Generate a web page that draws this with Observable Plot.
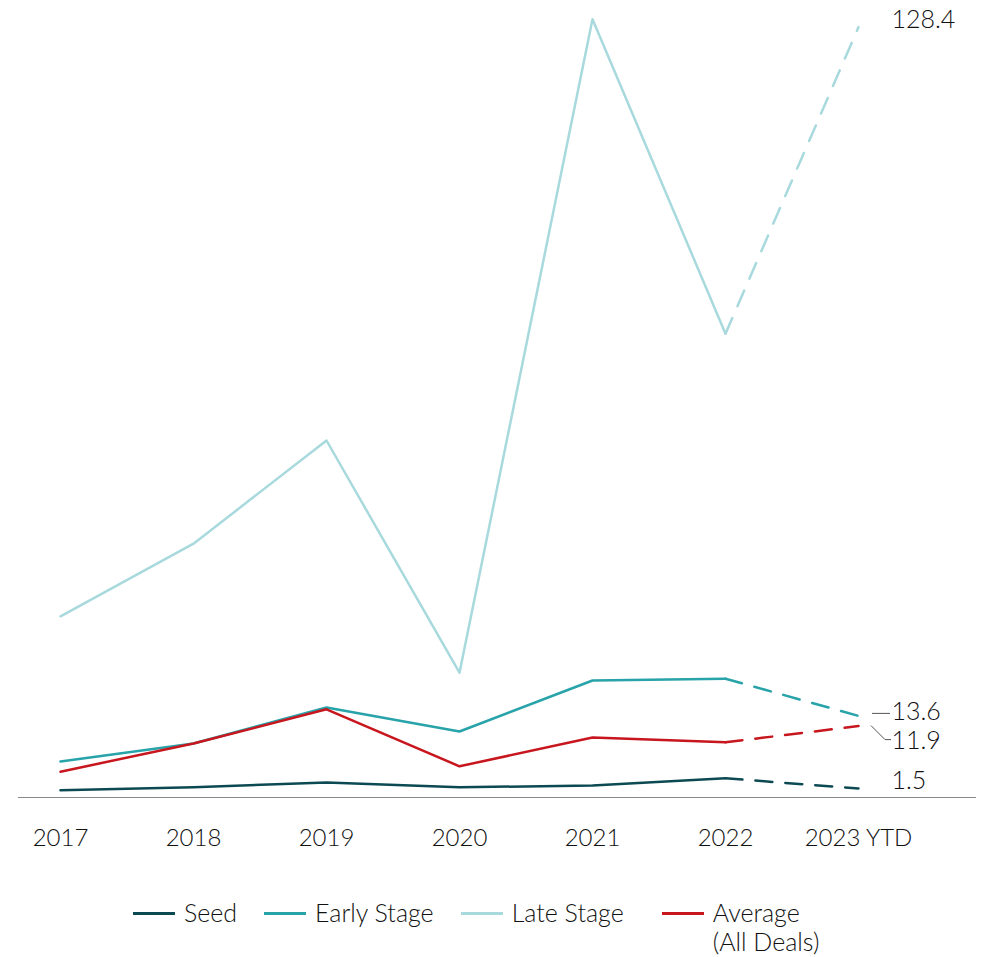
<!DOCTYPE html>
<html>
<head>
<meta charset="utf-8">
<script src="https://cdn.jsdelivr.net/npm/d3@7"></script>
<script src="https://cdn.jsdelivr.net/npm/@observablehq/plot@0.6"></script>
<style>
  body { margin: 0; background: #fff; font-family: Lato, "Open Sans", sans-serif; }
  #legend { display: flex; justify-content: flex-start; align-items: flex-start; padding-left: 133px; margin-top: 28px; font-size: 25px; color: #111; font-weight: 300; }
  .item { display: flex; align-items: flex-start; margin-right: 27px; line-height: 29px; }
  .item:nth-child(3) { margin-right: 38px; }
  .sw { width: 42px; height: 3px; margin-top: 14px; margin-right: 9px; }
</style>
</head>
<body>
<div id="chart"></div>
<div id="legend"></div>
<script>
const years = ["2017", "2018", "2019", "2020", "2021", "2022", "2023 YTD"];
const seed = [1.2, 1.7, 2.5, 1.7, 2.0, 3.2, 1.5];
const early = [6.0, 9.0, 15.0, 11.0, 19.5, 19.8, 13.6];
const late = [30.2, 42.3, 59.5, 20.8, 129.7, 77.3, 128.4];
const average = [4.3, 9.0, 14.7, 5.2, 10.0, 9.2, 11.9];
const seriesNames = ["Seed", "Early Stage", "Late Stage", "Average\n(All Deals)"];
const colors = ["#0c4a53", "#27a3a9", "#a8d9dd", "#c8161e"];

const seriesValues = [seed, early, late, average];
const rows = [];
seriesValues.forEach((vals, s) => vals.forEach((v, i) => rows.push({series: seriesNames[s], year: years[i], value: v, i})));
const solid = rows.filter(d => d.i <= 5);
const dashed = rows.filter(d => d.i >= 5);
const last = rows.filter(d => d.i === 6);

// vertical label offsets (styling) per series
const labelDy = [-8, -4, -7, 15];

const leaders = (index, scales) => {
  const ns = "http://www.w3.org/2000/svg";
  const g = document.createElementNS(ns, "g");
  const x0 = scales.x(years[6]);
  const ye = scales.y(early[6]);
  const ya = scales.y(average[6]);
  const p1 = document.createElementNS(ns, "path");
  p1.setAttribute("d", `M${x0 + 14},${ye - 2}H${x0 + 32}`);
  const p2 = document.createElementNS(ns, "path");
  p2.setAttribute("d", `M${x0 + 13},${ya}L${x0 + 27},${ya + 14}H${x0 + 33}`);
  for (const p of [p1, p2]) {
    p.setAttribute("fill", "none");
    p.setAttribute("stroke", "#555");
    p.setAttribute("stroke-width", "1");
    g.appendChild(p);
  }
  return g;
};

const labelMarks = seriesNames.map((name, s) =>
  Plot.text(last.filter(d => d.series === name), {
    x: "year", y: "value", text: d => d.value.toFixed(1),
    dx: 33, dy: labelDy[s], textAnchor: "start", fill: "#111", fontSize: 25, fontWeight: 300
  })
);

const plot = Plot.plot({
  width: 986,
  height: 870,
  marginLeft: 18,
  marginRight: 10,
  marginTop: 17,
  marginBottom: 73,
  style: {fontFamily: "Lato, 'Open Sans', sans-serif", fontSize: "24px", fontWeight: 300, color: "#111"},
  x: {type: "point", domain: years, padding: 0.588, align: 0.261, label: null, tickSize: 0, tickPadding: 31},
  y: {domain: [0, 130], axis: null},
  color: {domain: seriesNames, range: colors},
  marks: [
    Plot.ruleY([0], {stroke: "#888", strokeWidth: 1}),
    Plot.line(solid, {x: "year", y: "value", z: "series", stroke: "series", strokeWidth: 2.5}),
    Plot.line(dashed, {x: "year", y: "value", z: "series", stroke: "series", strokeWidth: 2.5, strokeDasharray: "17,13"}),
    ...labelMarks,
    leaders
  ]
});
document.getElementById("chart").appendChild(plot);

const legend = document.getElementById("legend");
seriesNames.forEach((name, i) => {
  const item = document.createElement("div");
  item.className = "item";
  const sw = document.createElement("div");
  sw.className = "sw";
  sw.style.background = colors[i];
  const lab = document.createElement("div");
  lab.innerHTML = name.replace("\n", "<br>");
  item.appendChild(sw);
  item.appendChild(lab);
  legend.appendChild(item);
});
</script>
</body>
</html>
